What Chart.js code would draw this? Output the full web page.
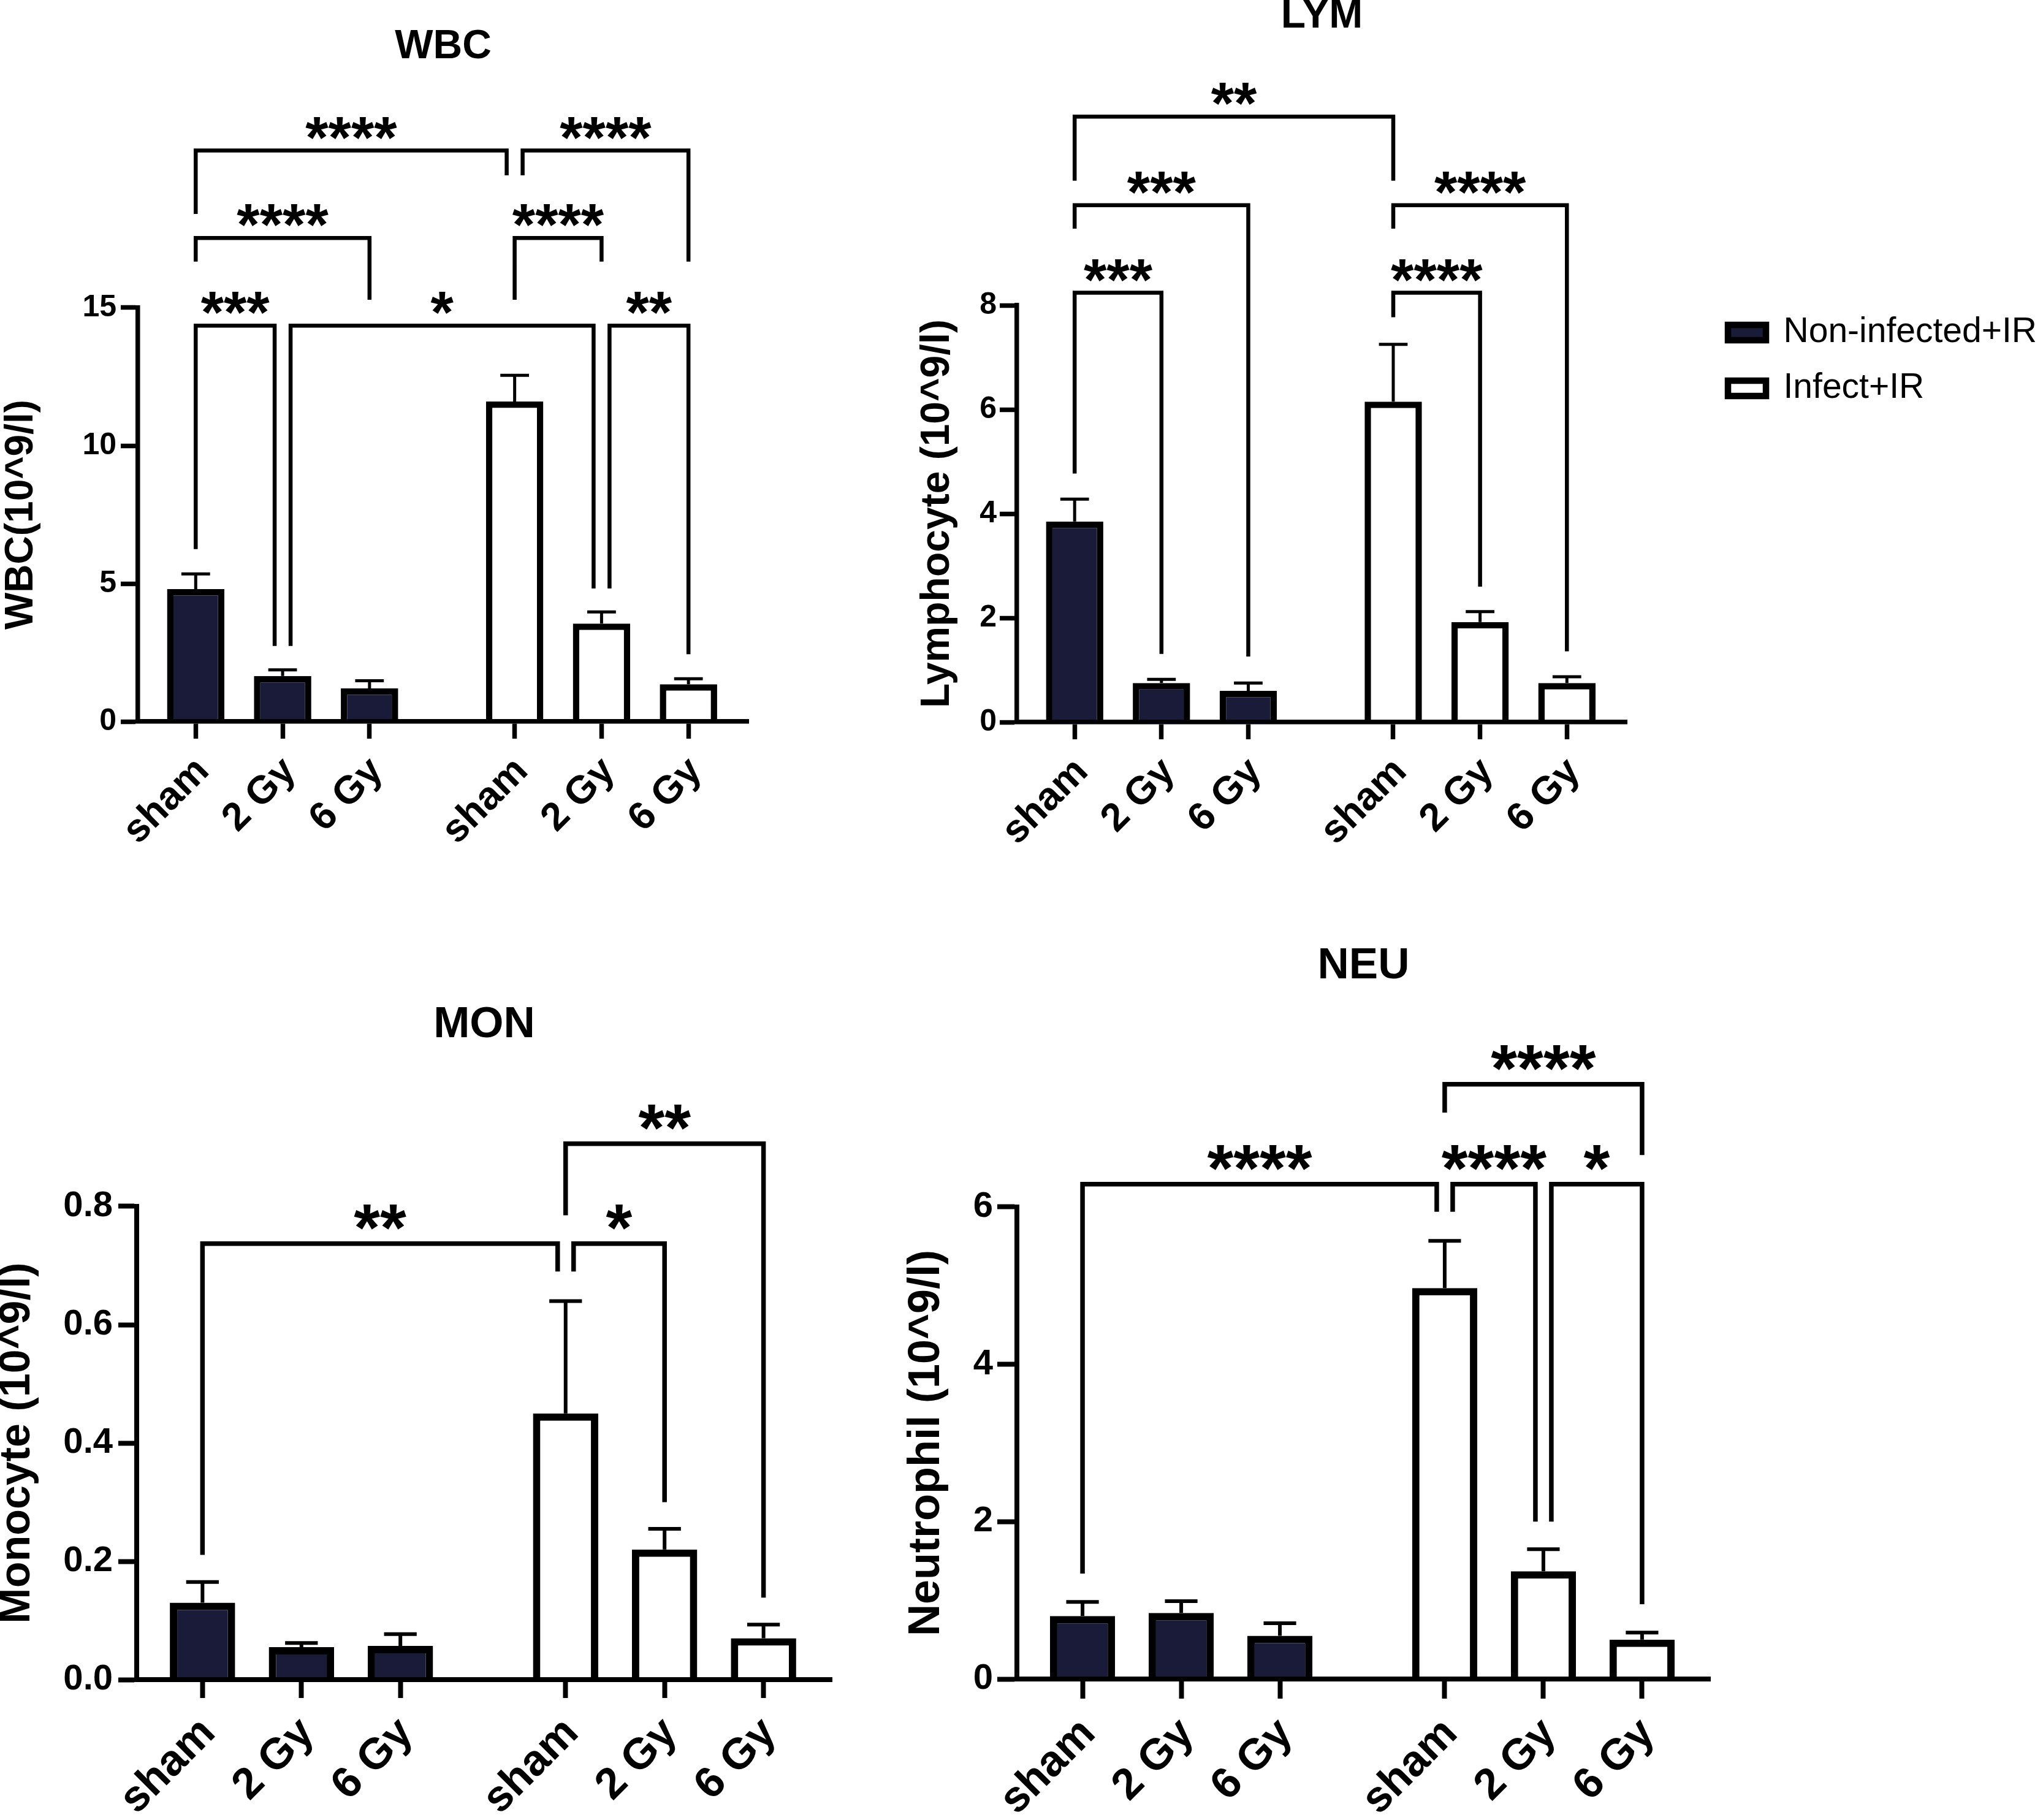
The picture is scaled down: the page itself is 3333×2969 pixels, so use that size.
<!DOCTYPE html>
<html>
<head>
<meta charset="utf-8">
<title>Blood counts after infection and irradiation</title>
<script src="https://cdn.jsdelivr.net/npm/chart.js@4.4.1/dist/chart.umd.min.js"></script>
<style>
  html, body { margin: 0; padding: 0; background: #fff; }
  body { width: 3333px; height: 2969px; position: relative; overflow: hidden; }
  canvas { position: absolute; }
</style>
</head>
<body>
<canvas id="wbc"></canvas>
<canvas id="lym"></canvas>
<canvas id="mon"></canvas>
<canvas id="neu"></canvas>
<script>
// ---------- data ----------
const doseLabels = ['sham', '2 Gy', '6 Gy'];
const groupNames = ['Non-infected+IR', 'Infect+IR'];

// WBC (10^9/l), mean and SEM
const wbcNonInfected = [4.8, 1.65, 1.2];
const wbcNonInfectedErr = [0.55, 0.22, 0.28];
const wbcInfected = [11.6, 3.55, 1.35];
const wbcInfectedErr = [0.95, 0.42, 0.2];
const wbcTicks = [0, 5, 10, 15];

// Lymphocyte
const lymNonInfected = [3.85, 0.75, 0.6];
const lymNonInfectedErr = [0.43, 0.07, 0.15];
const lymInfected = [6.15, 1.92, 0.75];
const lymInfectedErr = [1.1, 0.2, 0.12];
const lymTicks = [0, 2, 4, 6, 8];

// Monocyte
const monNonInfected = [0.13, 0.055, 0.057];
const monNonInfectedErr = [0.035, 0.007, 0.02];
const monInfected = [0.45, 0.22, 0.07];
const monInfectedErr = [0.19, 0.035, 0.023];
const monTicks = [0, 0.2, 0.4, 0.6, 0.8];

// Neutrophil
const neuNonInfected = [0.8, 0.84, 0.55];
const neuNonInfectedErr = [0.18, 0.15, 0.16];
const neuInfected = [4.97, 1.37, 0.5];
const neuInfectedErr = [0.6, 0.28, 0.09];
const neuTicks = [0, 2, 4, 6];

// significance brackets: [bar from, bar to, bracket height, left leg end, right leg end, stars]
// bars are numbered 0..5 (sham, 2 Gy, 6 Gy non-infected, then sham, 2 Gy, 6 Gy infected)
const wbcSig = [
  [0, 3, 20.7, 18.4, 19.8, '****'],
  [3, 5, 20.7, 19.8, 16.67, '****'],
  [0, 2, 17.53, 16.67, 15.29, '****'],
  [3, 4, 17.53, 15.29, 16.67, '****'],
  [0, 1, 14.35, 6.25, 2.74, '***'],
  [1, 4, 14.35, 2.74, 4.82, '*'],
  [4, 5, 14.35, 4.82, 2.44, '**']
];
const lymSig = [
  [0, 3, 11.62, 10.39, 10.39, '**'],
  [0, 2, 9.92, 9.47, 1.26, '***'],
  [3, 5, 9.92, 9.47, 1.36, '****'],
  [0, 1, 8.24, 4.77, 1.31, '***'],
  [3, 4, 8.24, 7.77, 2.6, '****']
];
const monSig = [
  [3, 5, 0.906, 0.785, 0.1385, '**'],
  [0, 3, 0.737, 0.211, 0.69, '**'],
  [3, 4, 0.737, 0.69, 0.30, '*']
];
const neuSig = [
  [3, 5, 7.56, 7.2, 6.66, '****'],
  [0, 3, 6.29, 1.34, 5.94, '****'],
  [3, 4, 6.29, 5.94, 2.0, '****'],
  [4, 5, 6.29, 2.0, 0.95, '*']
];

// ---------- drawing ----------
const FONT = "'Liberation Sans', Arial, Helvetica, sans-serif";
const NAVY = '#1a1b38';
const GROUP_GAP = 1.67;
const xPos = [0, 1, 2, 2 + GROUP_GAP, 3 + GROUP_GAP, 4 + GROUP_GAP];
const xLabels = doseLabels.concat(doseLabels);

// upward SEM whiskers on top of each bar
const errorBars = {
  id: 'errorBars',
  afterDatasetsDraw(chart, args, o) {
    const ctx = chart.ctx, ys = chart.scales.y;
    ctx.save();
    ctx.strokeStyle = '#000';
    ctx.lineWidth = o.lineWidth;
    chart.data.datasets.forEach((ds, di) => {
      chart.getDatasetMeta(di).data.forEach((bar, i) => {
        const yEnd = ys.getPixelForValue(ds.data[i].y + ds.errors[i]);
        const half = bar.width * 0.25;
        ctx.beginPath();
        ctx.moveTo(bar.x, bar.y);
        ctx.lineTo(bar.x, yEnd);
        ctx.moveTo(bar.x - half, yEnd);
        ctx.lineTo(bar.x + half, yEnd);
        ctx.stroke();
      });
    });
    ctx.restore();
  }
};

// comparison brackets with stars
const sigBrackets = {
  id: 'sigBrackets',
  afterDatasetsDraw(chart, args, o) {
    const ctx = chart.ctx, xs = chart.scales.x, ys = chart.scales.y;
    const items = o.items || [];
    ctx.save();
    ctx.strokeStyle = '#000';
    ctx.fillStyle = '#000';
    ctx.lineWidth = o.lineWidth;
    ctx.lineJoin = 'miter';
    ctx.font = 'bold ' + o.starSize + 'px ' + FONT;
    ctx.textAlign = 'center';
    ctx.textBaseline = 'alphabetic';
    items.forEach(it => {
      const [a, b, top, endA, endB, stars] = it;
      // two brackets meeting on the same bar at the same height get split legs
      const shared = c => items.some(o2 => o2 !== it && o2[2] === top && (o2[0] === c || o2[1] === c));
      const xa = xs.getPixelForValue(xPos[a]) + (shared(a) ? o.split : 0);
      const xb = xs.getPixelForValue(xPos[b]) - (shared(b) ? o.split : 0);
      const yt = ys.getPixelForValue(top);
      ctx.beginPath();
      ctx.moveTo(xa, ys.getPixelForValue(endA));
      ctx.lineTo(xa, yt);
      ctx.lineTo(xb, yt);
      ctx.lineTo(xb, ys.getPixelForValue(endB));
      ctx.stroke();
      ctx.fillText(stars, (xa + xb) / 2, yt + o.starDrop);
    });
    ctx.restore();
  }
};

function panelChart(id, s) {
  const [left, top, w, h] = s.box;
  const cv = document.getElementById(id);
  cv.width = w;
  cv.height = h;
  Object.assign(cv.style, { left: left + 'px', top: top + 'px', width: w + 'px', height: h + 'px' });

  const areaL = s.area[0] - left, areaR = s.area[1] - left;
  const areaT = s.area[2] - top, areaB = s.area[3] - top;
  const titleLH = s.titleSize * 0.8;
  const titlePadTop = Math.max(0, s.titleMid - top - titleLH / 2);
  const yTitlePad = Math.max(0, s.yTitleMid - left - s.yTitleSize * 0.4);

  const scales = {
    x: {
      type: 'linear',
      offset: false,
      min: -0.665,
      max: 6.36,
      afterBuildTicks: sc => { sc.ticks = xPos.map(v => ({ value: v })); },
      afterFit: sc => { sc.height = h - areaB; },
      grid: { display: true, offset: false, drawOnChartArea: false, drawTicks: true, color: '#000',
              tickColor: '#000', tickLength: s.tickLen, tickWidth: s.axisW },
      border: { display: true, color: '#000', width: s.axisW, z: 1 },
      ticks: {
        autoSkip: false, minRotation: 45, maxRotation: 45, padding: s.xLabelPad,
        labelOffset: s.xLabelShift, color: '#000',
        font: { family: FONT, size: s.xFont, weight: 'bold' },
        callback: (v, i) => xLabels[i]
      }
    },
    y: {
      type: 'linear',
      min: 0,
      max: s.yTicks[s.yTicks.length - 1],
      afterBuildTicks: sc => { sc.ticks = s.yTicks.map(v => ({ value: v })); },
      afterFit: sc => { sc.width = areaL; },
      grid: { display: true, drawOnChartArea: false, drawTicks: true, color: '#000',
              tickColor: '#000', tickLength: s.tickLen, tickWidth: s.axisW },
      border: { display: true, color: '#000', width: s.axisW },
      ticks: {
        padding: s.yLabelPad, color: '#000',
        font: { family: FONT, size: s.yFont, weight: 'bold' },
        callback: v => v.toFixed(s.decimals)
      },
      title: {
        display: true, text: s.yTitle, color: '#000',
        font: { family: FONT, size: s.yTitleSize, weight: 'bold', lineHeight: 0.8 },
        padding: { top: yTitlePad, bottom: 0 }
      }
    }
  };

  let legend = { display: false };
  if (s.legend) {
    legend = {
      display: true, position: 'right', align: 'start', fullSize: true, maxWidth: 2000,
      title: { display: true, text: '', font: { size: 10, lineHeight: 1 },
               padding: { top: s.legendTop - top - 10 - 34, bottom: 0 } },
      labels: { boxWidth: 62, boxHeight: 25, padding: 34, color: '#000',
                font: { family: FONT, size: 57 } }
    };
    // empty spacer axis between plot and legend
    scales.gap = {
      type: 'linear', position: 'right', display: true,
      grid: { display: false }, border: { display: false }, ticks: { display: false },
      afterFit: sc => { sc.width = Math.max(0, w - sc.chart.legend.width - areaR); }
    };
  }

  const makeSet = (i, vals, errs, offset) => ({
    label: groupNames[i],
    data: vals.map((v, j) => ({ x: xPos[j + offset], y: v })),
    errors: errs,
    backgroundColor: i === 0 ? NAVY : '#ffffff',
    borderColor: '#000',
    borderWidth: s.barBorder,
    grouped: false,
    barPercentage: 0.66,
    categoryPercentage: 1
  });

  return new Chart(cv, {
    type: 'bar',
    data: {
      datasets: [
        makeSet(0, s.series[0], s.series[1], 0),
        makeSet(1, s.series[2], s.series[3], 3)
      ]
    },
    options: {
      responsive: false,
      devicePixelRatio: 1,
      animation: false,
      events: [],
      layout: { padding: { top: 0, left: 0, right: s.legend ? 0 : w - areaR, bottom: 0 } },
      scales: scales,
      plugins: {
        legend: legend,
        tooltip: { enabled: false },
        title: {
          display: true, text: s.title, fullSize: false, color: '#000',
          font: { family: FONT, size: s.titleSize, weight: 'bold', lineHeight: 0.8 },
          padding: { top: titlePadTop, bottom: areaT - titlePadTop - titleLH }
        },
        errorBars: { lineWidth: s.errW },
        sigBrackets: { items: s.sig, lineWidth: s.bracketW, starSize: s.starSize, starDrop: 11, split: 13 }
      }
    },
    plugins: [errorBars, sigBrackets]
  });
}

const topRow = { tickLen: 28, axisW: 7.5, barBorder: 10.5, errW: 5, bracketW: 6.5, starSize: 96,
                 xFont: 64, yFont: 50, titleSize: 66, xLabelPad: 16, xLabelShift: 12 };
const bottomRow = { tickLen: 31, axisW: 8, barBorder: 12, errW: 6, bracketW: 7.5, starSize: 110,
                    xFont: 71, yFont: 58, titleSize: 71, xLabelPad: 16, xLabelShift: 10 };

panelChart('wbc', Object.assign({}, topRow, {
  box: [0, 0, 1420, 1480], area: [225, 1221, 502, 1177],
  title: 'WBC', titleMid: 77, yTitle: 'WBC(10^9/l)', yTitleSize: 64, yTitleMid: 35.4,
  yLabelPad: 7, yTicks: wbcTicks, decimals: 0,
  series: [wbcNonInfected, wbcNonInfectedErr, wbcInfected, wbcInfectedErr], sig: wbcSig
}));

panelChart('lym', Object.assign({}, topRow, {
  box: [1430, 0, 1903, 1480], area: [1659, 2654, 498, 1178],
  title: 'LYM', titleMid: 26, yTitle: 'Lymphocyte (10^9/l)', yTitleSize: 66, yTitleMid: 1530,
  yLabelPad: 5, yTicks: lymTicks, decimals: 0, legend: true, legendTop: 514,
  series: [lymNonInfected, lymNonInfectedErr, lymInfected, lymInfectedErr], sig: lymSig
}));

panelChart('mon', Object.assign({}, bottomRow, {
  box: [0, 1480, 1420, 1489], area: [223, 1357, 1968, 2740], tickLen: 30,
  title: 'MON', titleMid: 1672, yTitle: 'Monocyte (10^9/l)', yTitleSize: 70, yTitleMid: 29,
  yLabelPad: 9, yTicks: monTicks, decimals: 1,
  series: [monNonInfected, monNonInfectedErr, monInfected, monInfectedErr], sig: monSig
}));

panelChart('neu', Object.assign({}, bottomRow, {
  box: [1430, 1480, 1903, 1489], area: [1659, 2790, 1969, 2739], tickLen: 32,
  title: 'NEU', titleMid: 1576, yTitle: 'Neutrophil (10^9/l)', yTitleSize: 72, yTitleMid: 1512,
  yLabelPad: 7, yTicks: neuTicks, decimals: 0,
  series: [neuNonInfected, neuNonInfectedErr, neuInfected, neuInfectedErr], sig: neuSig
}));
</script>
</body>
</html>
